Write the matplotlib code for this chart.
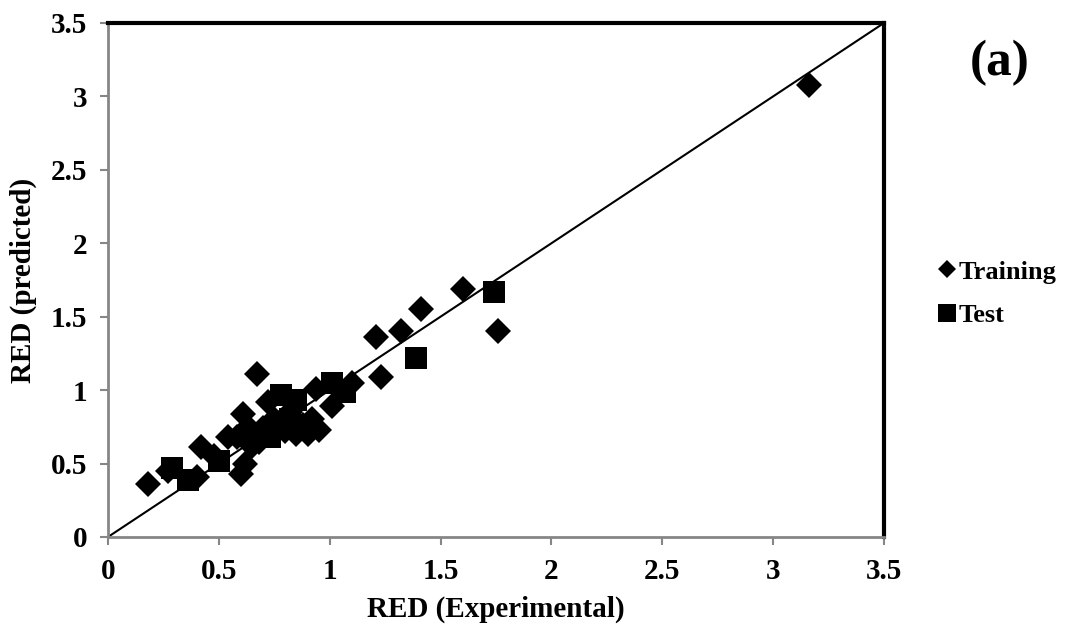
import matplotlib
matplotlib.use("Agg")
import matplotlib.pyplot as plt
from matplotlib.lines import Line2D

# Training data (diamonds)
train_x = [0.18, 0.27, 0.40, 0.42, 0.48, 0.54, 0.58, 0.60, 0.61, 0.62, 0.63, 0.65,
           0.66, 0.67, 0.68, 0.70, 0.72, 0.75, 0.78, 0.80, 0.82, 0.85, 0.88, 0.90,
           0.92, 0.94, 0.95, 1.01, 1.05, 1.10, 1.21, 1.23, 1.32, 1.41, 1.60, 1.76, 3.16]
train_y = [0.36, 0.45, 0.41, 0.61, 0.55, 0.68, 0.68, 0.43, 0.84, 0.50, 0.75, 0.62,
           0.70, 1.11, 0.65, 0.74, 0.92, 0.80, 0.75, 0.72, 0.85, 0.70, 0.76, 0.70,
           0.80, 1.01, 0.73, 0.89, 1.00, 1.05, 1.36, 1.09, 1.40, 1.55, 1.69, 1.40, 3.08]

# Test data (squares)
test_x = [0.29, 0.36, 0.50, 0.65, 0.73, 0.78, 0.82, 0.85, 1.01, 1.07, 1.39, 1.74]
test_y = [0.47, 0.39, 0.52, 0.68, 0.68, 0.97, 0.80, 0.93, 1.05, 0.99, 1.22, 1.67]

ticks = [0, 0.5, 1, 1.5, 2, 2.5, 3, 3.5]
tick_labels = ["0", "0.5", "1", "1.5", "2", "2.5", "3", "3.5"]

plt.rcParams['font.family'] = ['Liberation Serif', 'DejaVu Serif']
plt.rcParams['font.weight'] = 'bold'

fig = plt.figure(figsize=(10.68, 6.31), dpi=100)
ax = fig.add_axes([0.1011, 0.149, 0.7266, 0.8146])

ax.plot([0, 3.5], [0, 3.5], color='black', lw=1.5, zorder=2)
ax.plot(train_x, train_y, linestyle='none', marker='D', ms=13, color='black',
        markeredgewidth=0, zorder=3)
ax.plot(test_x, test_y, linestyle='none', marker='s', ms=15.5, color='black',
        markeredgewidth=0, zorder=3)

ax.set_xlim(0, 3.5)
ax.set_ylim(0, 3.5)
ax.set_xticks(ticks)
ax.set_xticklabels(tick_labels)
ax.set_yticks(ticks)
ax.set_yticklabels(tick_labels)
ax.tick_params(axis='both', direction='out', length=6, width=1.5, color='#868686',
               labelsize=21, pad=9)
for lab in ax.get_xticklabels() + ax.get_yticklabels():
    lab.set_fontweight('bold')

ax.spines['left'].set_color('#868686')
ax.spines['bottom'].set_color('#868686')
ax.spines['left'].set_linewidth(2)
ax.spines['bottom'].set_linewidth(2)
ax.spines['top'].set_color('black')
ax.spines['right'].set_color('black')
ax.spines['top'].set_linewidth(3)
ax.spines['right'].set_linewidth(3)

ax.set_xlabel('RED (Experimental)', fontsize=21, fontweight='bold', labelpad=8)
ax.set_ylabel('RED (predicted)', fontsize=21, fontweight='bold', labelpad=10)

fig.text(0.936, 0.90, '(a)', fontsize=37, fontweight='bold', ha='center', va='center')

handles = [Line2D([], [], linestyle='none', marker='D', ms=9, color='black', markeredgewidth=0),
           Line2D([], [], linestyle='none', marker='s', ms=13, color='black', markeredgewidth=0)]
fig.legend(handles, ['Training', 'Test'], loc='center left', bbox_to_anchor=(0.857, 0.535),
           frameon=False, handlelength=0.6, handletextpad=0.15, labelspacing=0.75,
           prop={'family': 'Liberation Serif', 'weight': 'bold', 'size': 19})

fig.savefig('out.png', dpi=100)
